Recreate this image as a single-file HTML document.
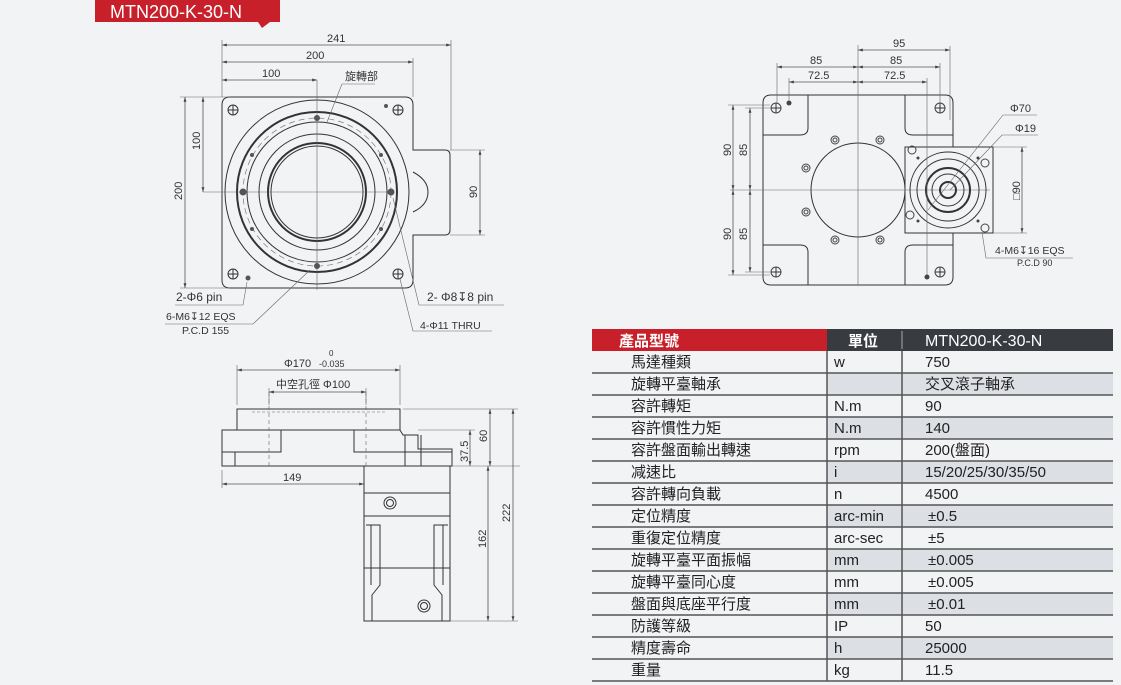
<!DOCTYPE html>
<html><head><meta charset="utf-8"><style>
body{margin:0;background:#f2f3f5;}
svg{display:block;font-family:"Liberation Sans","Noto Sans CJK TC",sans-serif;}
.l{stroke:#333;fill:none;stroke-width:1}
.t{stroke:#333;fill:none;stroke-width:2}
.d{stroke:#555;fill:none;stroke-width:0.8}
.c{stroke:#666;fill:none;stroke-width:0.6}
text{fill:#333;font-size:11px}
.tb{font-size:15px;fill:#222}
</style></head><body>
<svg width="1121" height="685" viewBox="0 0 1121 685" xmlns="http://www.w3.org/2000/svg">
<defs><marker id="a" viewBox="0 0 10 10" refX="10" refY="5" markerWidth="6" markerHeight="6" orient="auto-start-reverse"><path d="M0,2L10,5L0,8z" fill="#444"/></marker></defs>
<path d="M95,0H280V22H270L262,28L258,22H95Z" fill="#c8202a"/>
<text x="110" y="18" style="font-size:18px;fill:#fff">MTN200-K-30-N</text>

<!-- TOP VIEW -->
<path class="l" d="M230,97H405Q413,97 413,105V150H445Q450,150 450,155V230Q450,235 445,235H413V280Q413,288 405,288H230Q222,288 222,280V105Q222,97 230,97Z"/>
<path class="l" d="M413,172Q428,180 428,192Q428,205 413,212"/>
<circle class="l" cx="317" cy="192" r="92"/>
<circle class="t" cx="317" cy="192" r="80"/>
<circle class="c" cx="317" cy="192" r="74" stroke-dasharray="6,4"/>
<circle class="l" cx="317" cy="192" r="70"/>
<circle class="l" cx="317" cy="192" r="58"/>
<circle class="t" cx="317" cy="192" r="49"/>
<circle class="l" cx="317" cy="192" r="46"/>
<line class="c" x1="317" y1="80" x2="317" y2="290"/><line class="c" x1="203" y1="192" x2="392" y2="192"/>
<g fill="none" stroke="#333"><circle cx="233" cy="110" r="5"/><circle cx="398" cy="110" r="5"/><circle cx="233" cy="274" r="5"/><circle cx="398" cy="274" r="5"/></g>
<path class="l" d="M228,110h10M233,105v10M393,110h10M398,105v10M228,274h10M233,269v10M393,274h10M398,269v10"/>
<g fill="#555"><circle cx="317" cy="118" r="3"/><circle cx="317" cy="266" r="3"/><circle cx="243" cy="192" r="3.5"/><circle cx="391" cy="192" r="3.5"/><circle cx="252" cy="155" r="2"/><circle cx="381" cy="155" r="2"/><circle cx="252" cy="229" r="2"/><circle cx="381" cy="229" r="2"/><circle cx="386" cy="106" r="2"/><circle cx="248" cy="278" r="2.5"/></g>
<line class="d" x1="222" y1="45" x2="451" y2="45" marker-start="url(#a)" marker-end="url(#a)"/><text x="327" y="42">241</text>
<line class="d" x1="222" y1="62" x2="413" y2="62" marker-start="url(#a)" marker-end="url(#a)"/><text x="306" y="59">200</text>
<line class="d" x1="222" y1="80" x2="317" y2="80" marker-start="url(#a)" marker-end="url(#a)"/><text x="262" y="77">100</text>
<path class="c" d="M222,40V97M451,40V150M413,58V97"/>
<line class="d" x1="185" y1="97" x2="185" y2="288" marker-start="url(#a)" marker-end="url(#a)"/><text transform="translate(182,200) rotate(-90)">200</text>
<line class="d" x1="203" y1="97" x2="203" y2="192" marker-start="url(#a)" marker-end="url(#a)"/><text transform="translate(200,150) rotate(-90)">100</text>
<path class="c" d="M180,97H230M180,288H230"/>
<line class="d" x1="480" y1="150" x2="480" y2="235" marker-start="url(#a)" marker-end="url(#a)"/><text transform="translate(477,198) rotate(-90)">90</text>
<path class="c" d="M450,150H485M450,235H485"/>
<text x="345" y="80">旋轉部</text><path class="c" d="M342,84H375M342,84L327,122"/>
<text x="176" y="301" style="font-size:12px">2-Φ6 pin</text><path class="c" d="M175,305H243L247,282"/>
<text x="166" y="320" style="font-size:10.5px">6-M6↧12 EQS</text><path class="c" d="M165,324H253L310,270"/>
<text x="182" y="334" style="font-size:10.5px">P.C.D 155</text>
<text x="427" y="301" style="font-size:12px">2- Φ8↧8 pin</text><path class="c" d="M504,305H419L393,198"/>
<text x="420" y="329" style="font-size:10.5px">4-Φ11 THRU</text><path class="c" d="M492,331H413L400,279"/>

<!-- SIDE VIEW -->
<rect class="l" x="237" y="409" width="163" height="21"/>
<path class="c" d="M252,412H385" stroke-dasharray="3,2"/>
<path class="l" d="M222,430H400L403,435H418V449H452V466H222Z"/>
<path class="l" d="M222,452H281V430M354,430V452H452M235,452V466M405,435V466M421,435V466"/>
<path class="c" d="M269,392V466M366,392V466" stroke-dasharray="4,3"/>
<rect class="l" x="364" y="466" width="86" height="155"/>
<path class="l" d="M364,493H450M364,516H450M364,568H450M366,525H380V585L372,595V621M448,525H434V585L442,595V621M371,525V585M443,525V585"/>
<circle class="l" cx="390" cy="503" r="6"/><circle class="l" cx="390" cy="503" r="3.5"/>
<circle class="l" cx="424" cy="606" r="6"/><circle class="l" cx="424" cy="606" r="3.5"/>
<line class="d" x1="237" y1="370" x2="400" y2="370" marker-start="url(#a)" marker-end="url(#a)"/>
<text x="284" y="367">Φ170</text><text x="319" y="367" style="font-size:9px">-0.035</text><text x="329" y="356" style="font-size:8px">0</text>
<path class="c" d="M237,365V405M400,365V405M269,388V405M366,388V405"/>
<line class="d" x1="269" y1="392" x2="366" y2="392" marker-start="url(#a)" marker-end="url(#a)"/><text x="276" y="388">中空孔徑 Φ100</text>
<line class="d" x1="222" y1="484" x2="364" y2="484" marker-start="url(#a)" marker-end="url(#a)"/><text x="283" y="481">149</text>
<path class="c" d="M222,470V488M403,409H518M418,430H475M452,466H520M450,621H518"/>
<line class="d" x1="470" y1="430" x2="470" y2="466" marker-start="url(#a)" marker-end="url(#a)"/><text transform="translate(468,462) rotate(-90)">37.5</text>
<line class="d" x1="490" y1="409" x2="490" y2="466" marker-start="url(#a)" marker-end="url(#a)"/><text transform="translate(487,442) rotate(-90)">60</text>
<line class="d" x1="488" y1="466" x2="488" y2="621" marker-start="url(#a)" marker-end="url(#a)"/><text transform="translate(486,548) rotate(-90)">162</text>
<line class="d" x1="513" y1="409" x2="513" y2="621" marker-start="url(#a)" marker-end="url(#a)"/><text transform="translate(510,522) rotate(-90)">222</text>

<!-- RIGHT VIEW -->
<path class="l" d="M771,95H945Q953,95 953,103V147H993V233H953V277Q953,285 945,285H771Q763,285 763,277V103Q763,95 771,95Z"/>
<path class="l" d="M808,95V128Q808,135 800,135H763M905,95V128Q905,135 913,135H953M808,285V252Q808,245 800,245H763M905,285V252Q905,245 913,245H953"/>
<rect class="l" x="905" y="147" width="88" height="86"/>
<circle class="l" cx="858" cy="190" r="47"/>
<line class="c" x1="858" y1="45" x2="858" y2="285"/><line class="c" x1="730" y1="190" x2="990" y2="190"/>
<circle class="l" cx="948" cy="190" r="38"/><circle class="l" cx="948" cy="190" r="31"/><circle class="t" cx="948" cy="190" r="22"/><circle class="l" cx="948" cy="190" r="16"/><circle class="t" cx="948" cy="190" r="8"/>
<g fill="none" stroke="#444"><circle cx="776" cy="108" r="5"/><circle cx="940" cy="108" r="5"/><circle cx="776" cy="272" r="5"/><circle cx="940" cy="272" r="5"/>
<circle cx="835" cy="140" r="4"/><circle cx="880" cy="140" r="4"/><circle cx="806" cy="168" r="4"/><circle cx="806" cy="212" r="4"/><circle cx="835" cy="240" r="4"/><circle cx="880" cy="240" r="4"/><circle cx="912" cy="150" r="4"/><circle cx="985" cy="163" r="4"/><circle cx="910" cy="215" r="4"/><circle cx="985" cy="228" r="4"/>
<circle cx="835" cy="140" r="2"/><circle cx="880" cy="140" r="2"/><circle cx="806" cy="168" r="2"/><circle cx="806" cy="212" r="2"/><circle cx="835" cy="240" r="2"/><circle cx="880" cy="240" r="2"/></g>
<path class="l" d="M771,108h10M776,103v10M935,108h10M940,103v10M771,272h10M776,267v10M935,272h10M940,267v10"/>
<g fill="#444"><circle cx="789" cy="103" r="2.5"/><circle cx="927" cy="277" r="2.5"/><circle cx="918" cy="158" r="1.5"/><circle cx="978" cy="158" r="1.5"/><circle cx="918" cy="221" r="1.5"/><circle cx="978" cy="221" r="1.5"/></g>
<line class="d" x1="858" y1="50" x2="950" y2="50" marker-start="url(#a)" marker-end="url(#a)"/><text x="893" y="47">95</text>
<line class="d" x1="777" y1="67" x2="858" y2="67" marker-start="url(#a)" marker-end="url(#a)"/><text x="810" y="64">85</text>
<line class="d" x1="858" y1="67" x2="940" y2="67" marker-start="url(#a)" marker-end="url(#a)"/><text x="890" y="64">85</text>
<line class="d" x1="789" y1="82" x2="858" y2="82" marker-start="url(#a)" marker-end="url(#a)"/><text x="808" y="79">72.5</text>
<line class="d" x1="858" y1="82" x2="927" y2="82" marker-start="url(#a)" marker-end="url(#a)"/><text x="884" y="79">72.5</text>
<path class="c" d="M777,63V103M940,63V103M789,78V100M927,78V275M950,46V120"/>
<line class="d" x1="733" y1="105" x2="733" y2="190" marker-start="url(#a)" marker-end="url(#a)"/><text transform="translate(731,156) rotate(-90)">90</text>
<line class="d" x1="733" y1="190" x2="733" y2="275" marker-start="url(#a)" marker-end="url(#a)"/><text transform="translate(731,240) rotate(-90)">90</text>
<line class="d" x1="750" y1="108" x2="750" y2="190" marker-start="url(#a)" marker-end="url(#a)"/><text transform="translate(747,156) rotate(-90)">85</text>
<line class="d" x1="750" y1="190" x2="750" y2="272" marker-start="url(#a)" marker-end="url(#a)"/><text transform="translate(747,240) rotate(-90)">85</text>
<path class="c" d="M728,105H770M728,275H770M745,108H770M745,272H770M993,147H1027M993,233H1027"/>
<line class="d" x1="1022" y1="147" x2="1022" y2="233" marker-start="url(#a)" marker-end="url(#a)"/><text transform="translate(1020,200) rotate(-90)">□90</text>
<text x="1010" y="112">Φ70</text><path class="c" d="M1037,115H1003L928,210"/>
<text x="1015" y="132">Φ19</text><path class="c" d="M1038,135H1002L950,190"/>
<text x="995" y="254" style="font-size:10.5px">4-M6↧16 EQS</text><path class="c" d="M1073,258H986L982,232"/>
<text x="1017" y="266" style="font-size:9px">P.C.D 90</text>

<!-- TABLE -->
<rect x="592" y="329" width="235" height="22" fill="#c8202a"/>
<rect x="827" y="329" width="286" height="22" fill="#383b40"/>
<line x1="902" y1="331" x2="902" y2="349" stroke="#aaa"/>
<text x="619" y="346" style="font-size:15px;fill:#fff;font-weight:bold">產品型號</text>
<text x="848" y="346" style="font-size:15px;fill:#fff;font-weight:bold">單位</text>
<text x="925" y="346" style="font-size:16px;fill:#fff">MTN200-K-30-N</text>
<g fill="#dcdfe4">
<rect x="827" y="373" width="286" height="22"/><rect x="827" y="417" width="286" height="22"/><rect x="827" y="461" width="286" height="22"/><rect x="827" y="505" width="286" height="22"/><rect x="827" y="549" width="286" height="22"/><rect x="827" y="593" width="286" height="22"/><rect x="827" y="637" width="286" height="22"/>
</g>
<g stroke="#555" stroke-width="1.5">
<line x1="592" y1="373" x2="1113" y2="373"/><line x1="592" y1="395" x2="1113" y2="395"/><line x1="592" y1="417" x2="1113" y2="417"/><line x1="592" y1="439" x2="1113" y2="439"/><line x1="592" y1="461" x2="1113" y2="461"/><line x1="592" y1="483" x2="1113" y2="483"/><line x1="592" y1="505" x2="1113" y2="505"/><line x1="592" y1="527" x2="1113" y2="527"/><line x1="592" y1="549" x2="1113" y2="549"/><line x1="592" y1="571" x2="1113" y2="571"/><line x1="592" y1="593" x2="1113" y2="593"/><line x1="592" y1="615" x2="1113" y2="615"/><line x1="592" y1="637" x2="1113" y2="637"/><line x1="592" y1="659" x2="1113" y2="659"/><line x1="592" y1="681" x2="1113" y2="681"/>
<line x1="827" y1="351" x2="827" y2="681"/><line x1="902" y1="351" x2="902" y2="681"/>
</g>
<g>
<text class="tb" x="631" y="367">馬達種類</text><text class="tb" x="834" y="367">w</text><text class="tb" x="925" y="367">750</text>
<text class="tb" x="631" y="389">旋轉平臺軸承</text><text class="tb" x="925" y="389">交叉滾子軸承</text>
<text class="tb" x="631" y="411">容許轉矩</text><text class="tb" x="834" y="411">N.m</text><text class="tb" x="925" y="411">90</text>
<text class="tb" x="631" y="433">容許慣性力矩</text><text class="tb" x="834" y="433">N.m</text><text class="tb" x="925" y="433">140</text>
<text class="tb" x="631" y="455">容許盤面輸出轉速</text><text class="tb" x="834" y="455">rpm</text><text class="tb" x="925" y="455">200(盤面)</text>
<text class="tb" x="631" y="477">减速比</text><text class="tb" x="834" y="477">i</text><text class="tb" x="925" y="477">15/20/25/30/35/50</text>
<text class="tb" x="631" y="499">容許轉向負載</text><text class="tb" x="834" y="499">n</text><text class="tb" x="925" y="499">4500</text>
<text class="tb" x="631" y="521">定位精度</text><text class="tb" x="834" y="521">arc-min</text><text class="tb" x="928" y="521">±0.5</text>
<text class="tb" x="631" y="543">重復定位精度</text><text class="tb" x="834" y="543">arc-sec</text><text class="tb" x="928" y="543">±5</text>
<text class="tb" x="631" y="565">旋轉平臺平面振幅</text><text class="tb" x="834" y="565">mm</text><text class="tb" x="928" y="565">±0.005</text>
<text class="tb" x="631" y="587">旋轉平臺同心度</text><text class="tb" x="834" y="587">mm</text><text class="tb" x="928" y="587">±0.005</text>
<text class="tb" x="631" y="609">盤面與底座平行度</text><text class="tb" x="834" y="609">mm</text><text class="tb" x="928" y="609">±0.01</text>
<text class="tb" x="631" y="631">防護等級</text><text class="tb" x="834" y="631">IP</text><text class="tb" x="925" y="631">50</text>
<text class="tb" x="631" y="653">精度壽命</text><text class="tb" x="834" y="653">h</text><text class="tb" x="925" y="653">25000</text>
<text class="tb" x="631" y="675">重量</text><text class="tb" x="834" y="675">kg</text><text class="tb" x="925" y="675">11.5</text>
</g>
</svg>
</body></html>
